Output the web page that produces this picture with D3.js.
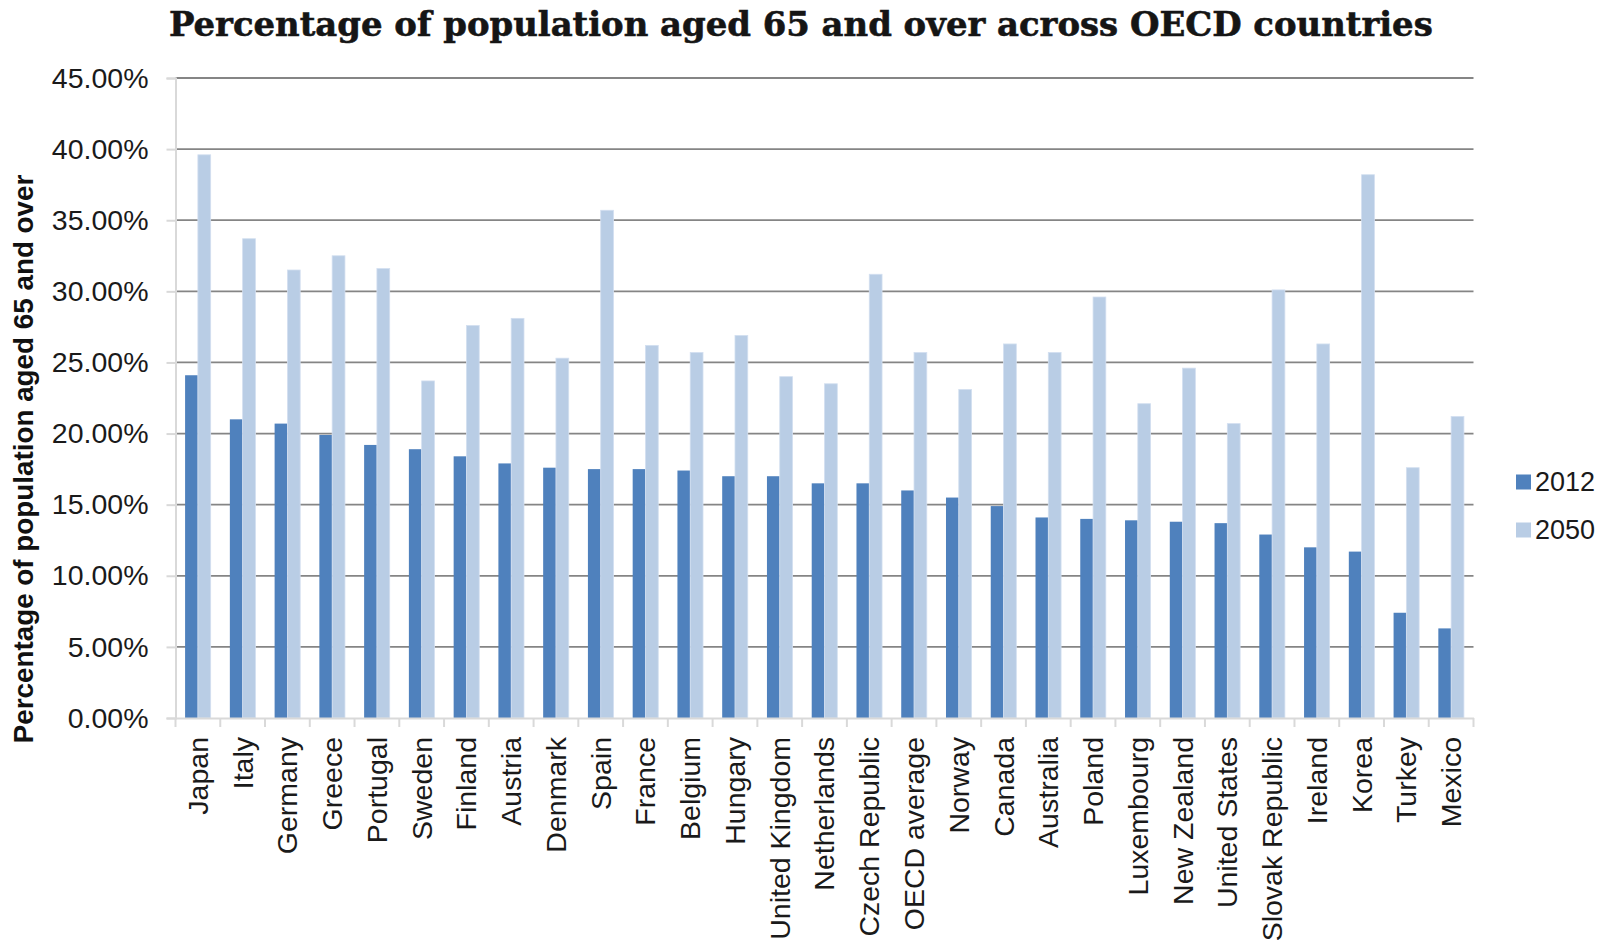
<!DOCTYPE html>
<html>
<head>
<meta charset="utf-8">
<script src="https://cdn.jsdelivr.net/npm/d3@7"></script>
<style>
  html, body { margin: 0; padding: 0; background: #ffffff; }
  svg { display: block; }
</style>
</head>
<body>
<svg id="chart" width="1608" height="947"></svg>
<script>
// Share of population aged 65+ (percent), 2012 vs projected 2050
const categories = ["Japan","Italy","Germany","Greece","Portugal","Sweden","Finland","Austria","Denmark","Spain","France","Belgium","Hungary","United Kingdom","Netherlands","Czech Republic","OECD average","Norway","Canada","Australia","Poland","Luxembourg","New Zealand","United States","Slovak Republic","Ireland","Korea","Turkey","Mexico"];
const values2012 = [24.1,21.0,20.7,19.9,19.2,18.9,18.4,17.9,17.6,17.5,17.5,17.4,17.0,17.0,16.5,16.5,16.0,15.5,14.9,14.1,14.0,13.9,13.8,13.7,12.9,12.0,11.7,7.4,6.3];
const values2050 = [39.6,33.7,31.5,32.5,31.6,23.7,27.6,28.1,25.3,35.7,26.2,25.7,26.9,24.0,23.5,31.2,25.7,23.1,26.3,25.7,29.6,22.1,24.6,20.7,30.1,26.3,38.2,17.6,21.2];
const seriesNames = ["2012","2050"];
const yTickValues = [0,5,10,15,20,25,30,35,40,45];
const titleText = "Percentage of population aged 65 and over across OECD countries";
const yAxisTitle = "Percentage of population aged 65 and over";

const colors = { "2012": "#4f81bd", "2050": "#b9cde5" };
const gridColor = "#858585";
const axisColor = "#d9d9d9";
const sansFont = "'Liberation Sans', Arial, sans-serif";
const labelSize = 28.5;

const svg = d3.select("#chart");
const plot = { left: 175.5, right: 1473.5, top: 78, bottom: 718 };

const rows = categories.map((c, i) => ({ cat: c, "2012": values2012[i], "2050": values2050[i] }));

const x = d3.scaleBand().domain(categories).range([plot.left, plot.right]).padding(0);
const xs = d3.scaleBand().domain(seriesNames).range([0, x.bandwidth()]).paddingInner(0).paddingOuter(0.75);
const y = d3.scaleLinear().domain([0, 45]).range([plot.bottom, plot.top]);

// horizontal gridlines
svg.append("g").selectAll("line").data(yTickValues.filter(v => v > 0)).join("line")
  .attr("x1", plot.left).attr("x2", plot.right)
  .attr("y1", d => y(d)).attr("y2", d => y(d))
  .attr("stroke", gridColor).attr("stroke-width", 1.8);

// bars
const groups = svg.append("g").selectAll("g").data(rows).join("g")
  .attr("transform", d => `translate(${x(d.cat)},0)`);
groups.selectAll("rect").data(d => seriesNames.map(s => ({ s, v: d[s] }))).join("rect")
  .attr("x", d => xs(d.s)).attr("width", xs.bandwidth())
  .attr("y", d => y(d.v)).attr("height", d => y(0) - y(d.v))
  .attr("fill", d => colors[d.s])
  .attr("stroke", d => d.s === "2050" ? "#d3dff0" : "none")
  .attr("stroke-width", 0.8);

// y axis
const yAxis = svg.append("g").attr("transform", `translate(${plot.left},0)`)
  .call(d3.axisLeft(y).tickValues(yTickValues).tickFormat(d => d.toFixed(2) + "%").tickSize(9).tickPadding(18));
yAxis.select(".domain").attr("stroke", axisColor).attr("stroke-width", 2);
yAxis.selectAll(".tick line").attr("stroke", axisColor).attr("stroke-width", 2);
yAxis.selectAll(".tick text").attr("font-family", sansFont).attr("font-size", labelSize).attr("fill", "#1a1a1a");

// x axis: baseline, category separators and rotated labels
const xAxis = svg.append("g").attr("transform", `translate(0,${plot.bottom})`)
  .call(d3.axisBottom(x).tickSize(0).tickPadding(0));
xAxis.select(".domain").attr("stroke", axisColor).attr("stroke-width", 2);
xAxis.selectAll(".tick text")
  .attr("font-family", sansFont).attr("font-size", labelSize).attr("fill", "#1a1a1a")
  .attr("text-anchor", "end").attr("y", 0).attr("dy", "0.35em")
  .attr("transform", "translate(0,19) rotate(-90)");
const boundaries = categories.map(c => x(c)).concat([plot.right]);
xAxis.append("g").selectAll("line").data(boundaries).join("line")
  .attr("x1", d => d).attr("x2", d => d).attr("y1", 0).attr("y2", 9)
  .attr("stroke", axisColor).attr("stroke-width", 2);

// title, sized to span its line
const title = svg.append("text").text(titleText)
  .attr("x", 169).attr("y", 36)
  .attr("font-family", "'DejaVu Serif', 'Liberation Serif', serif")
  .attr("font-weight", "bold").attr("font-size", 30)
  .attr("fill", "#151515").attr("stroke", "#151515").attr("stroke-width", 0.6);
const tW = title.node().getComputedTextLength();
title.attr("font-size", 30 * 1264 / tW);

// y axis title
const yt = svg.append("text").text(yAxisTitle)
  .attr("font-family", sansFont).attr("font-weight", "bold").attr("font-size", 24).attr("fill", "#111")
  .attr("text-anchor", "middle").attr("dy", "0.35em")
  .attr("transform", "translate(23,459) rotate(-90)");
const ytW = yt.node().getComputedTextLength();
yt.attr("font-size", 24 * 569 / ytW);

// legend
const legend = svg.append("g").selectAll("g").data(seriesNames).join("g")
  .attr("transform", (d, i) => `translate(1516,${482 + i * 48})`);
legend.append("rect").attr("x", 0).attr("y", -7.5).attr("width", 15).attr("height", 15)
  .attr("fill", d => colors[d]);
legend.append("text").text(d => d).attr("x", 19).attr("dy", "0.35em")
  .attr("font-family", sansFont).attr("font-size", 27).attr("fill", "#1a1a1a");
</script>
</body>
</html>
